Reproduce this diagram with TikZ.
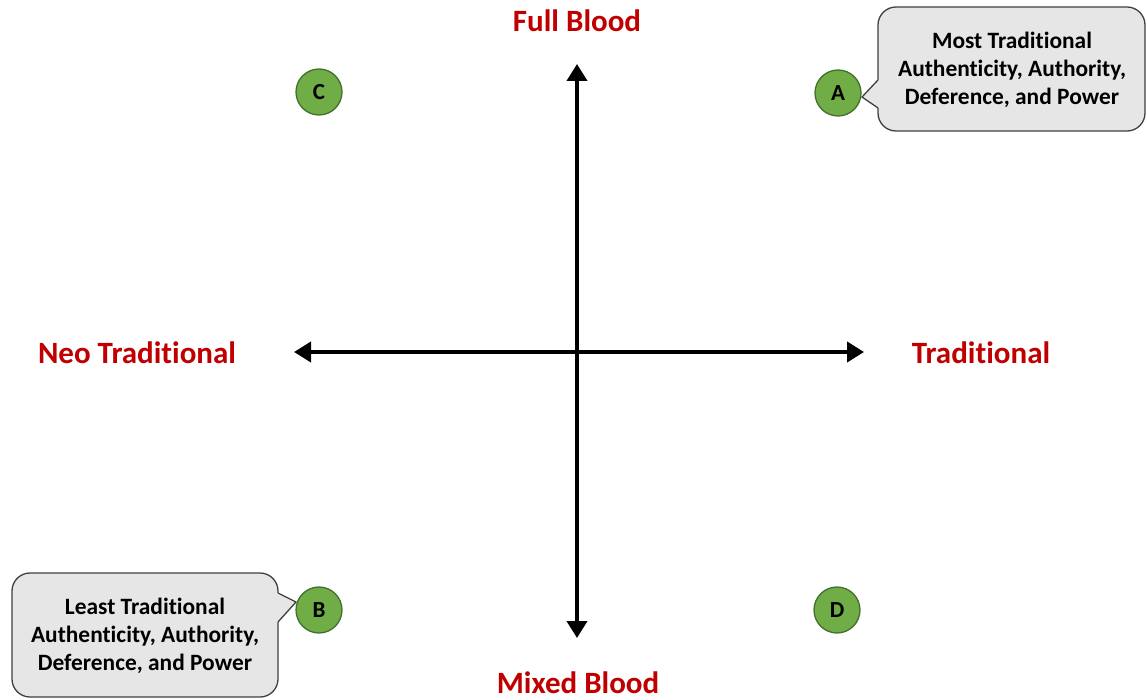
\documentclass[tikz,border=0pt]{standalone}
\usepackage{fontspec}
\setmainfont{Carlito}[Ligatures=NoCommon]
\usetikzlibrary{arrows.meta}
\definecolor{axred}{HTML}{C00000}
\definecolor{dotgreen}{HTML}{70AD47}
\definecolor{dotedge}{HTML}{41702A}
\definecolor{callfill}{HTML}{E7E6E6}
\definecolor{calledge}{HTML}{404040}
\tikzset{
  axis/.style={line width=4pt,-{Triangle[length=17pt,width=20pt]}},
  axlabel/.style={text=axred,font=\fontsize{31}{36}\selectfont\bfseries,inner sep=0pt},
  dot/.style={circle,fill=dotgreen,draw=dotedge,line width=1.3pt,minimum size=46pt,inner sep=0pt,font=\fontsize{23}{26}\selectfont\bfseries},
  callout/.style={fill=callfill,draw=calledge,line width=1.3pt,rounded corners=18pt},
  pointerfill/.style={fill=callfill},
  pointeredge/.style={draw=calledge,line width=1.3pt,line join=miter},
  calltext/.style={align=center,font=\fontsize{23.4}{28}\selectfont\bfseries,inner sep=0pt},
}
\begin{document}
\begin{tikzpicture}[x=1pt,y=-1pt]
\useasboundingbox (0,0) rectangle (1147,700);
% axes
\coordinate (ctr) at (577,352);
\coordinate (top) at (577,64);
\coordinate (bot) at (577,638);
\coordinate (lft) at (294,352);
\coordinate (rgt) at (864,352);
\draw[axis] (ctr) -- (top);
\draw[axis] (ctr) -- (bot);
\draw[axis] (ctr) -- (lft);
\draw[axis] (ctr) -- (rgt);
% axis labels
\node[axlabel] (full) at (577,21) {Full Blood};
\node[axlabel] (mixed) at (578,683) {Mixed Blood};
\node[axlabel] (neo) at (137,353) {Neo Traditional};
\node[axlabel] (trad) at (981,353) {Traditional};
% callout A
\draw[callout] (878,7) rectangle (1145,131);
\fill[pointerfill] (880,80) -- (878,80) -- (862,97) -- (878,108) -- (880,108) -- cycle;
\draw[pointeredge] (878,80) -- (862,97) -- (878,108);
\node[calltext] (ta) at (1012,70) {Most Traditional\\Authenticity, Authority,\\Deference, and Power};
% callout B
\draw[callout] (12,573) rectangle (278,697);
\fill[pointerfill] (276,593) -- (278,593) -- (296,602) -- (278,622) -- (276,622) -- cycle;
\draw[pointeredge] (278,593) -- (296,602) -- (278,622);
\node[calltext] (tb) at (145,636) {Least Traditional\\Authenticity, Authority,\\Deference, and Power};
% dots
\node[dot] (C) at (319,92) {C};
\node[dot] (A) at (838,93) {A};
\node[dot] (B) at (319,610) {B};
\node[dot] (D) at (837,610) {D};
\end{tikzpicture}
\end{document}
